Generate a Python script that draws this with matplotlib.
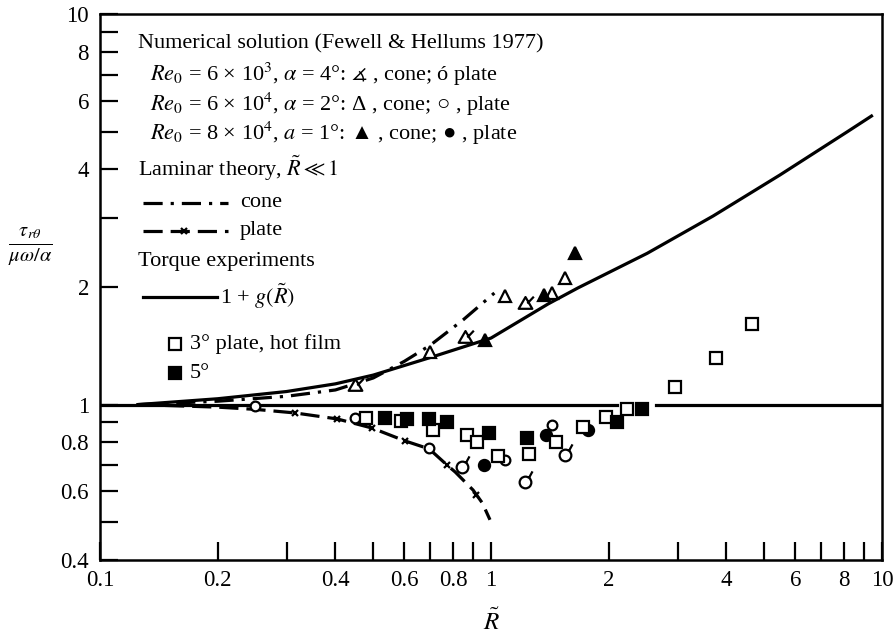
import numpy as np
import matplotlib
matplotlib.use('Agg')
import matplotlib.pyplot as plt
from matplotlib.path import Path

plt.rcParams['font.family'] = ['Liberation Serif', 'DejaVu Serif', 'DejaVu Sans']
plt.rcParams['mathtext.fontset'] = 'stix'

# 曲线数据
g_x = [0.125, 0.2, 0.3, 0.4, 0.5, 0.7, 1.0, 1.4, 1.67, 2.51, 3.7, 5.48, 8.14, 9.4]
g_y = [1.0, 1.035, 1.08, 1.13, 1.19, 1.32, 1.48, 1.81, 1.99, 2.44, 3.04, 3.87, 4.99, 5.48]

cone_x = [0.125, 0.2, 0.3, 0.4, 0.5, 0.6, 0.7, 0.85, 1.02]
cone_y = [1.0, 1.02, 1.05, 1.09, 1.17, 1.29, 1.42, 1.65, 1.93]

plate_x = [0.125, 0.2, 0.25, 0.315, 0.404, 0.496, 0.603, 0.695, 0.772, 0.81, 0.9, 0.95, 0.994]
plate_y = [1.0, 0.985, 0.972, 0.952, 0.919, 0.871, 0.807, 0.77, 0.70, 0.672, 0.604, 0.56, 0.507]
plate_mark_x = [0.315, 0.404, 0.496, 0.603, 0.772, 0.915]
plate_mark_y = [0.952, 0.919, 0.871, 0.807, 0.70, 0.587]

unity_x1 = [0.1, 2.1]
unity_x2 = [2.65, 10]

# 数值解
cone6e3_x = [0.449, 0.858, 1.22]
cone6e3_y = [1.12, 1.49, 1.82]
cone6e4_x = [0.70, 1.086, 1.43, 1.55]
cone6e4_y = [1.36, 1.90, 1.93, 2.11]
cone8e4_x = [0.965, 1.37, 1.64]
cone8e4_y = [1.46, 1.91, 2.44]
plate6e3_x = [0.843, 1.22, 1.55]
plate6e3_y = [0.692, 0.634, 0.743]
plate6e4_x = [0.249, 0.449, 0.695, 1.086, 1.43]
plate6e4_y = [0.99, 0.924, 0.774, 0.721, 0.887]
plate8e4_x = [0.96, 1.38, 1.77]
plate8e4_y = [0.70, 0.836, 0.861]

# 热膜实验
hot3_x = [0.479, 0.589, 0.711, 0.868, 0.92, 1.04, 1.25, 1.47, 1.72, 1.97, 2.23, 2.96, 3.76, 4.65]
hot3_y = [0.924, 0.908, 0.861, 0.836, 0.80, 0.74, 0.747, 0.802, 0.876, 0.929, 0.974, 1.11, 1.316, 1.61]
hot5_x = [0.535, 0.61, 0.695, 0.772, 0.988, 1.236, 2.1, 2.43]
hot5_y = [0.924, 0.919, 0.919, 0.903, 0.846, 0.821, 0.903, 0.975]

xtick_pos = [0.1, 0.2, 0.3, 0.4, 0.5, 0.6, 0.7, 0.8, 0.9, 1, 2, 3, 4, 5, 6, 7, 8, 9, 10]
xtick_lab = ['0.1', '0.2', '', '0.4', '', '0.6', '', '0.8', '', '1', '2', '', '4', '', '6', '', '8', '', '10']
ytick_pos = [0.4, 0.5, 0.6, 0.7, 0.8, 0.9, 1, 2, 3, 4, 5, 6, 7, 8, 9, 10]
ytick_lab = ['0.4', '', '0.6', '', '0.8', '', '1', '2', '', '4', '', '6', '', '8', '', '10']

# 自定义标记: 带尾巴的三角形和圆
tri = Path([(-0.9, -0.7), (0.9, -0.7), (0.0, 0.85), (-0.9, -0.7), (0.25, 0.0), (1.1, 0.9)],
           [Path.MOVETO, Path.LINETO, Path.LINETO, Path.CLOSEPOLY, Path.MOVETO, Path.LINETO])
circ = Path.unit_circle()
tail = Path([(0.6, 0.8), (1.2, 1.9)], [Path.MOVETO, Path.LINETO])
circ_tail = Path.make_compound_path(circ, tail)

fig = plt.figure(figsize=(8.94, 6.35), dpi=100)
ax = fig.add_axes([100 / 894, 75 / 635, 782 / 894, 546 / 635])
ax.set_xscale('log')
ax.set_yscale('log')
ax.set_xlim(0.1, 10)
ax.set_ylim(0.4, 10)

lw = 2.3
ax.plot(unity_x1, [1, 1], color='black', lw=lw)
ax.plot(unity_x2, [1, 1], color='black', lw=lw)
ax.plot(g_x, g_y, color='black', lw=lw)
ax.plot(cone_x, cone_y, color='black', lw=lw, linestyle=(0, (6, 2.5, 1, 2.5)))
ax.plot(plate_x, plate_y, color='black', lw=lw, linestyle=(0, (6, 2.5)))
ax.plot(plate_mark_x, plate_mark_y, 'x', color='black', ms=5, mew=1.6)

mk = dict(color='black', linestyle='none', mew=1.6)
ax.plot(cone6e3_x, cone6e3_y, marker=tri, ms=12, mfc='white', **mk)
ax.plot(cone6e4_x, cone6e4_y, marker='^', ms=8, mfc='white', **mk)
ax.plot(cone8e4_x, cone8e4_y, marker='^', ms=8, mfc='black', **mk)
ax.plot(plate6e3_x, plate6e3_y, marker=circ_tail, ms=16, mfc='white', **mk)
ax.plot(plate6e4_x, plate6e4_y, marker='o', ms=7, mfc='white', **mk)
ax.plot(plate8e4_x, plate8e4_y, marker='o', ms=8, mfc='black', **mk)
ax.plot(hot3_x, hot3_y, marker='s', ms=8, mfc='white', **mk)
ax.plot(hot5_x, hot5_y, marker='s', ms=9, mfc='black', **mk)

ax.set_xticks(xtick_pos)
ax.set_xticklabels(xtick_lab)
ax.set_yticks(ytick_pos)
ax.set_yticklabels(ytick_lab)
ax.minorticks_off()
ax.tick_params(direction='in', length=13, width=1.6, labelsize=16.5, top=False, right=False)
ax.tick_params(axis='x', pad=7)
ax.tick_params(axis='y', pad=8)
for s in ax.spines.values():
    s.set_linewidth(1.8)

# 图例文字 (手工放置)
fs = 16
T = ax.transAxes
ax.text(0.049, 0.945, 'Numerical solution (Fewell & Hellums 1977)', transform=T, fontsize=fs, va='center')
ax.text(0.064, 0.889, r'$\mathit{Re}_0$ = 6 × 10$^3$, $\alpha$ = 4°: $\measuredangle$ , cone; ó plate', transform=T, fontsize=fs, va='center')
ax.text(0.064, 0.835, r'$\mathit{Re}_0$ = 6 × 10$^4$, $\alpha$ = 2°: Δ , cone; ○ , plate', transform=T, fontsize=fs, va='center')
ax.text(0.064, 0.782, r'$\mathit{Re}_0$ = 8 × 10$^4$, $a$ = 1°: ▲ , cone; ● , plate', transform=T, fontsize=fs, va='center')
ax.text(0.049, 0.718, r'Laminar theory, $\tilde{R} \ll 1$', transform=T, fontsize=fs, va='center')
ax.plot([0.055, 0.164], [0.654, 0.654], transform=T, color='black', lw=lw, linestyle=(0, (6, 2.5, 1, 2.5)))
ax.text(0.179, 0.654, 'cone', transform=T, fontsize=fs, va='center')
ax.plot([0.055, 0.164], [0.603, 0.603], transform=T, color='black', lw=lw, linestyle=(0, (6, 2.5)))
ax.plot([0.108], [0.603], 'x', transform=T, color='black', ms=5, mew=1.6)
ax.text(0.179, 0.603, 'plate', transform=T, fontsize=fs, va='center')
ax.text(0.049, 0.546, 'Torque experiments', transform=T, fontsize=fs, va='center')
ax.plot([0.055, 0.150], [0.482, 0.482], transform=T, color='black', lw=lw)
ax.text(0.153, 0.482, r'1 + $g(\tilde{R})$', transform=T, fontsize=fs, va='center')
ax.plot([0.096], [0.396], transform=T, marker='s', ms=8, mfc='white', **mk)
ax.text(0.115, 0.396, '3° plate, hot film', transform=T, fontsize=fs, va='center')
ax.plot([0.096], [0.342], transform=T, marker='s', ms=9, mfc='black', **mk)
ax.text(0.115, 0.342, '5°', transform=T, fontsize=fs, va='center')

fig.text(30 / 894, 1 - 247 / 635, r'$\frac{\tau_{r\theta}}{\mu\omega/\alpha}$', fontsize=21, ha='center', va='center')
fig.text(492 / 894, 1 - 622 / 635, r'$\tilde{R}$', fontsize=18, ha='center', va='center')

fig.savefig('out.png', dpi=100)
